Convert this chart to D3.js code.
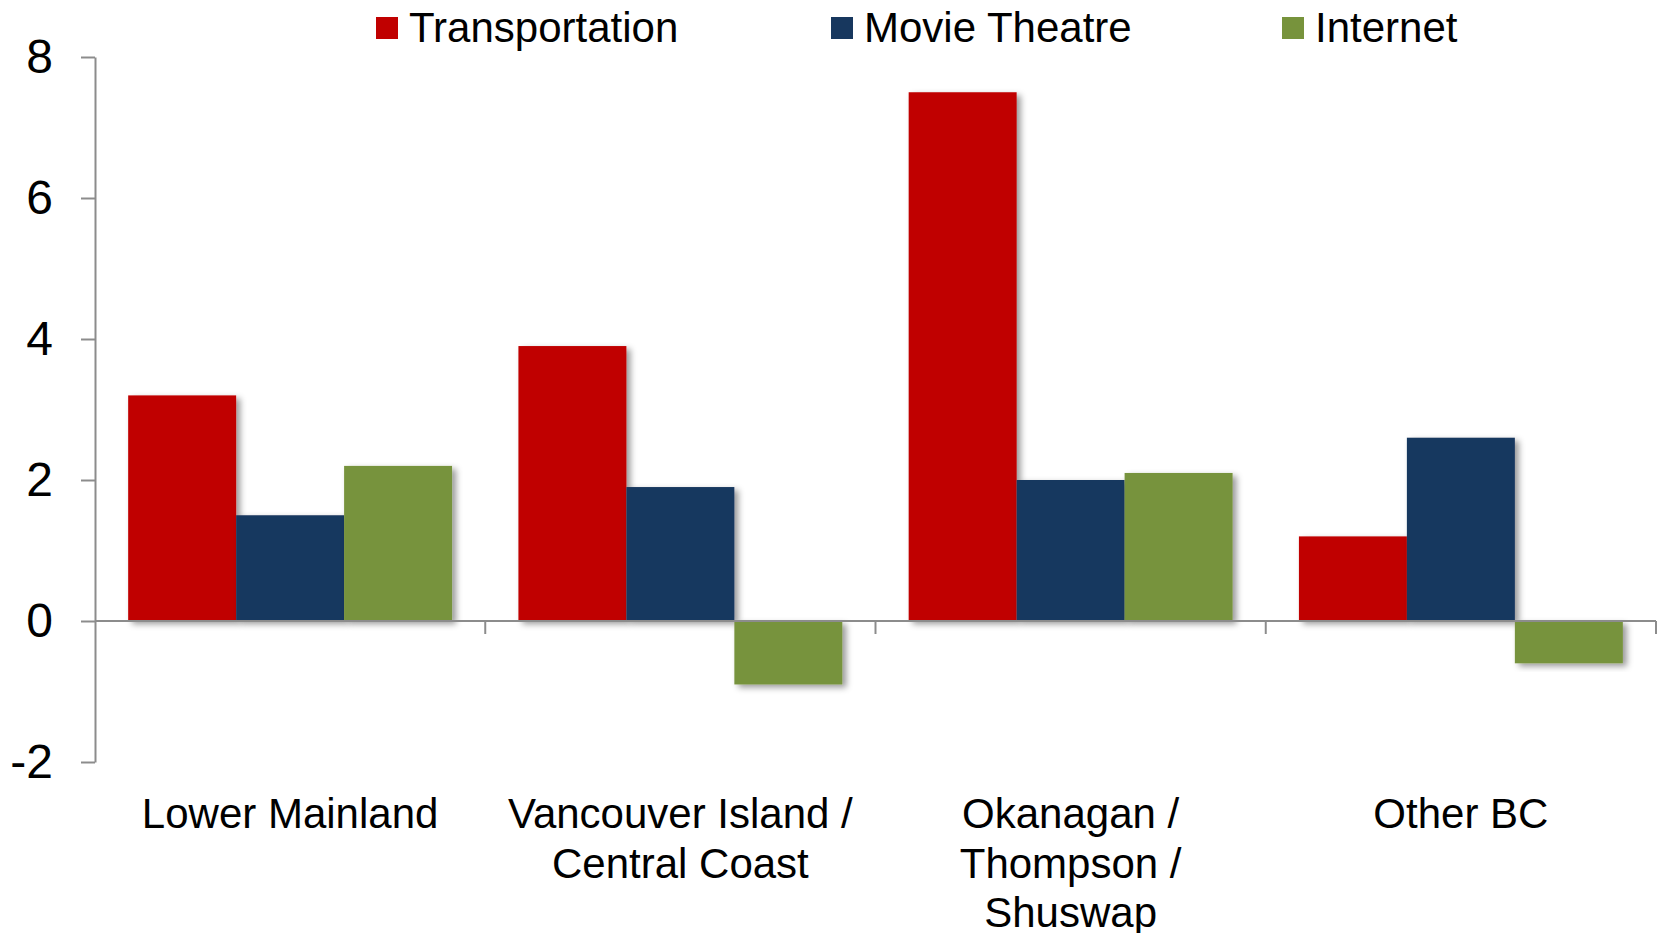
<!DOCTYPE html>
<html>
<head>
<meta charset="utf-8">
<script src="https://cdn.jsdelivr.net/npm/d3@7"></script>
<style>
  body { margin: 0; background: #fff; }
  text { font-family: "Liberation Sans", Arial, sans-serif; fill: #000; }
</style>
</head>
<body>
<script>
// data
var CATEGORIES = ["Lower Mainland", "Vancouver Island / Central Coast", "Okanagan / Thompson / Shuswap", "Other BC"];
var CATEGORY_LINES = [["Lower Mainland"], ["Vancouver Island /", "Central Coast"], ["Okanagan /", "Thompson /", "Shuswap"], ["Other BC"]];
var SERIES = ["Transportation", "Movie Theatre", "Internet"];
var TRANSPORTATION = [3.2, 3.9, 7.5, 1.2];
var MOVIE_THEATRE = [1.5, 1.9, 2.0, 2.6];
var INTERNET = [2.2, -0.9, 2.1, -0.6];
var Y_TICKS = [-2, 0, 2, 4, 6, 8];

var COLORS = ["#C00000", "#17375E", "#77933C"];
var AXIS_COLOR = "#8c8c8c";

var WIDTH = 1661, HEIGHT = 933;
var LEFT = 95, RIGHT = 1656, TOP = 57, BOTTOM = 762;

var values = [TRANSPORTATION, MOVIE_THEATRE, INTERNET];

var svg = d3.select("body").append("svg")
    .attr("width", WIDTH)
    .attr("height", HEIGHT);

var defs = svg.append("defs");
defs.append("filter")
    .attr("id", "shadow")
    .attr("x", "-10%").attr("y", "-10%")
    .attr("width", "130%").attr("height", "130%")
    .append("feDropShadow")
    .attr("dx", 4)
    .attr("dy", 3)
    .attr("stdDeviation", 3)
    .attr("flood-color", "#000")
    .attr("flood-opacity", 0.4);

var y = d3.scaleLinear().domain([-2, 8]).range([BOTTOM, TOP]);

var x0 = d3.scaleBand()
    .domain(CATEGORIES)
    .range([LEFT, RIGHT])
    .paddingInner(0.17)
    .paddingOuter(0.085);

var x1 = d3.scaleBand()
    .domain(SERIES)
    .range([0, x0.bandwidth()]);

// bars
var groups = svg.selectAll("g.cat")
    .data(CATEGORIES)
    .enter().append("g")
    .attr("class", "cat")
    .attr("transform", function(d) { return "translate(" + x0(d) + ",0)"; });

groups.selectAll("rect")
    .data(function(d, i) {
      return SERIES.map(function(s, j) { return { s: s, v: values[j][i], c: COLORS[j] }; });
    })
    .enter().append("rect")
    .attr("x", function(d) { return x1(d.s); })
    .attr("y", function(d) { return y(Math.max(0, d.v)); })
    .attr("width", x1.bandwidth())
    .attr("height", function(d) { return Math.abs(y(d.v) - y(0)); })
    .attr("fill", function(d) { return d.c; })
    .attr("filter", "url(#shadow)");

// y axis
var yAxis = svg.append("g")
    .attr("transform", "translate(" + LEFT + ",0)")
    .call(d3.axisLeft(y)
      .tickValues(Y_TICKS)
      .tickFormat(function(d) { return String(d); })
      .tickSize(14).tickPadding(28).tickSizeOuter(0));
yAxis.select(".domain").attr("stroke", AXIS_COLOR).attr("stroke-width", 2);
yAxis.selectAll(".tick line").attr("stroke", AXIS_COLOR).attr("stroke-width", 2);
yAxis.selectAll(".tick text")
    .style("font-family", "'Liberation Sans', Arial, sans-serif")
    .style("font-size", "48px")
    .attr("fill", "#000");

// x axis at zero
var step = x0.step();
var boundaries = CATEGORIES.map(function(d) { return x0(d) - step * 0.085; });
boundaries.push(RIGHT);

svg.append("line")
    .attr("x1", LEFT).attr("x2", RIGHT)
    .attr("y1", y(0)).attr("y2", y(0))
    .attr("stroke", AXIS_COLOR)
    .attr("stroke-width", 2);

svg.selectAll("line.xtick")
    .data(boundaries.slice(1))
    .enter().append("line")
    .attr("class", "xtick")
    .attr("x1", function(d) { return d; })
    .attr("x2", function(d) { return d; })
    .attr("y1", y(0))
    .attr("y2", y(0) + 13)
    .attr("stroke", AXIS_COLOR)
    .attr("stroke-width", 2);

// category labels
var labels = svg.selectAll("text.catlabel")
    .data(CATEGORIES)
    .enter().append("text")
    .attr("class", "catlabel")
    .attr("text-anchor", "middle")
    .style("font-size", "42px");

labels.selectAll("tspan")
    .data(function(d, i) { return CATEGORY_LINES[i]; })
    .enter().append("tspan")
    .attr("x", function() {
      var cat = d3.select(this.parentNode).datum();
      return x0(cat) + x0.bandwidth() / 2;
    })
    .attr("y", function(d, i) { return 828 + i * 49.5; })
    .text(function(d) { return d; });

// legend
var LEGEND_X = [376, 831, 1282];
var legend = svg.selectAll("g.legend")
    .data(SERIES)
    .enter().append("g")
    .attr("class", "legend")
    .attr("transform", function(d, i) { return "translate(" + LEGEND_X[i] + ",0)"; });

legend.append("rect")
    .attr("x", 0).attr("y", 17)
    .attr("width", 22).attr("height", 22)
    .attr("fill", function(d, i) { return COLORS[i]; });

legend.append("text")
    .attr("x", 33)
    .attr("y", 42)
    .style("font-size", "42px")
    .text(function(d) { return d; });
</script>
</body>
</html>
